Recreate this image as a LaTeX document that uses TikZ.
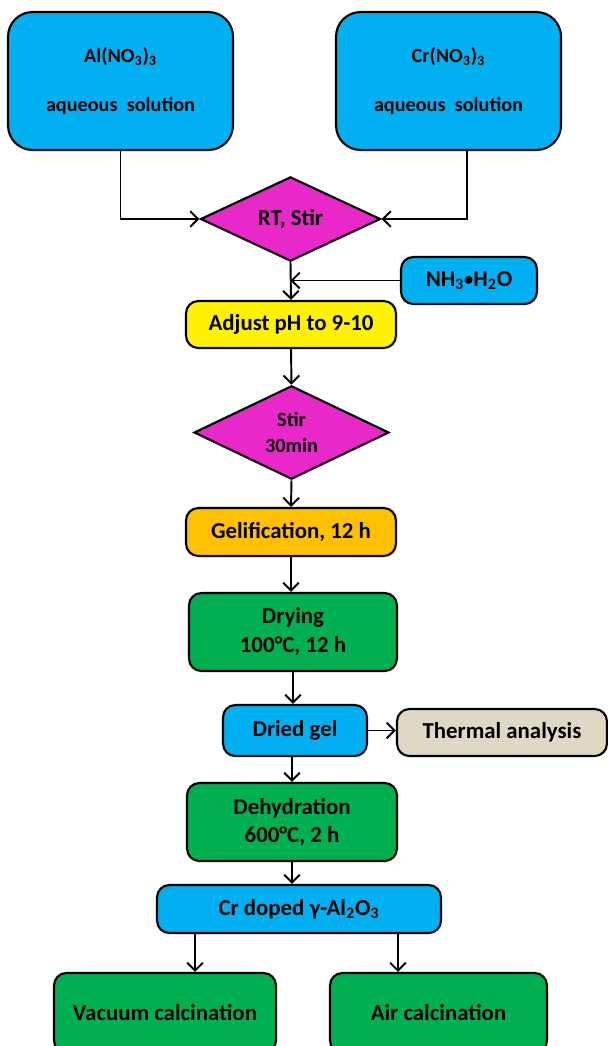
\documentclass[tikz,border=0pt]{standalone}
\usepackage{fontspec}
\setmainfont{Carlito}
\usetikzlibrary{shapes.geometric,arrows.meta}
\definecolor{skyblue}{RGB}{0,176,240}
\definecolor{pinkish}{RGB}{232,40,200}
\definecolor{goldish}{RGB}{255,192,0}
\definecolor{leafgreen}{RGB}{0,176,80}
\definecolor{tanbox}{RGB}{221,217,195}
\tikzset{
  box/.style={draw,line width=1.2pt,rounded corners=7pt,inner sep=0pt,align=center,
    font=\bfseries\fontsize{13}{17}\selectfont},
  bigbox/.style={box,rounded corners=14pt,fill=skyblue,minimum width=4.5cm,minimum height=2.76cm,
    font=\bfseries\fontsize{11.5}{28}\selectfont},
  decision/.style={diamond,draw,line width=1.2pt,fill=pinkish,inner sep=0pt,align=center},
  arr/.style={-{Straight Barb[length=4.5pt,width=9pt,line width=1.1pt]},line width=1.1pt}
}
\newcommand{\smalldot}{\raisebox{0.5pt}{\fontsize{10.5}{12}\selectfont•}}
\begin{document}
\begin{tikzpicture}[x=0.02cm,y=-0.02cm]
            \useasboundingbox (0,0) rectangle (608,1046);
            % starting solutions
            \node[bigbox] (al) at (120.5,81) {Al(NO\textsubscript{3})\textsubscript{3}\\aqueous\ \ solution};
            \node[bigbox] (cr) at (448.5,81) {Cr(NO\textsubscript{3})\textsubscript{3}\\aqueous\ \ solution};
            \node[decision,minimum width=3.6cm,minimum height=1.38cm,
                  font=\bfseries\fontsize{13}{16}\selectfont] (rt) at (290.5,219) {RT, Stir};
            \node[box,fill=skyblue,minimum width=2.72cm,minimum height=0.94cm] (nh) at (469,280.5) {NH\textsubscript{3}\smalldot H\textsubscript{2}O};
            % main line
            \node[box,fill=yellow,minimum width=4.2cm,minimum height=0.94cm] (adj) at (291,324.5) {Adjust pH to 9-10};
            \node[decision,minimum width=3.9cm,minimum height=1.66cm,
                  font=\bfseries\fontsize{11.5}{15}\selectfont] (stir) at (291.5,432.5) {Stir\\30min};
            \node[box,fill=goldish,minimum width=4.2cm,minimum height=0.96cm] (gel) at (291,532) {Gelification, 12 h};
            \node[box,fill=leafgreen,minimum width=4.16cm,minimum height=1.56cm,
                  font=\bfseries\fontsize{13}{16.5}\selectfont] (dry) at (293,632) {Drying\\100°C, 12 h};
            \node[box,fill=skyblue,minimum width=2.88cm,minimum height=1.02cm] (dried) at (295,730.5) {Dried gel};
            \node[box,fill=tanbox,minimum width=4.2cm,minimum height=0.94cm] (therm) at (502,732.5) {Thermal analysis};
            \node[box,fill=leafgreen,minimum width=4.2cm,minimum height=1.56cm,
                  font=\bfseries\fontsize{13}{16.5}\selectfont] (dehyd) at (292,822) {Dehydration\\600°C, 2 h};
            \node[box,fill=skyblue,minimum width=5.68cm,minimum height=0.96cm] (crd) at (299,909) {Cr doped γ-Al\textsubscript{2}O\textsubscript{3}};
            \node[box,fill=leafgreen,minimum width=4.44cm,minimum height=1.6cm] (vac) at (165,1013) {Vacuum calcination};
            \node[box,fill=leafgreen,minimum width=4.34cm,minimum height=1.6cm] (air) at (438.5,1013) {Air calcination};
            % connectors
            \draw[arr] (al.south) |- (rt.west);
            \draw[arr] ([xshift=0.37cm]cr.south) |- (rt.east);
            \draw[arr] (rt.south) -- (adj.north);
            \draw[arr] (nh.west) -- (nh.west -| rt.south);
            \draw[arr] (adj.south) -- (stir.north);
            \draw[arr] (stir.south) -- (gel.north);
            \draw[arr] (gel.south) -- (gel.south |- dry.north);
            \draw[arr] (dry.south) -- (dry.south |- dried.north);
            \draw[arr] (dried.east) -- (dried.east -| therm.west);
            \draw[arr] ([xshift=-0.06cm]dried.south) -- ([xshift=-0.06cm]dried.south |- dehyd.north);
            \draw[arr] (dehyd.south) -- (dehyd.south |- crd.north);
            \draw[arr] ([xshift=-2.08cm]crd.south) -- ([xshift=-2.08cm]crd.south |- vac.north);
            \draw[arr] ([xshift=1.98cm]crd.south) -- ([xshift=1.98cm]crd.south |- air.north);
        \end{tikzpicture}
\end{document}
